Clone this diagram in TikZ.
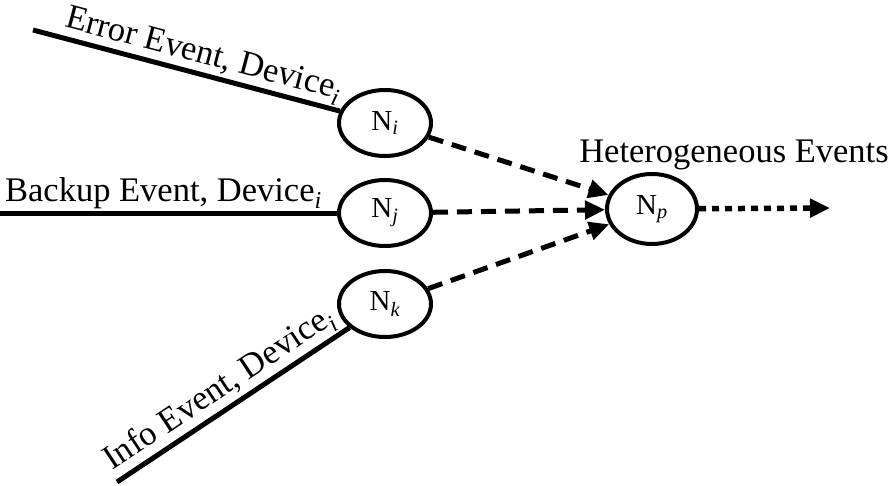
\documentclass[tikz,border=0pt]{standalone}
\usepackage{fontspec}
\setmainfont{Liberation Serif}
\usetikzlibrary{shapes.geometric,arrows.meta}
\tikzset{
  evnode/.style={ellipse, draw, line width=4pt, minimum width=92pt, minimum height=66pt, inner sep=0pt, font=\fontsize{29}{32}\selectfont},
  inline/.style={line width=5pt},
  lbl/.style={font=\fontsize{34.5}{40}\selectfont, inner sep=2pt},
  dasharrow/.style={line width=5pt, dash pattern=on 15pt off 9pt, -{Triangle[length=20pt,width=18pt]}},
  dotarrow/.style={line width=5.5pt, dash pattern=on 7pt off 6pt, -{Triangle[length=20pt,width=18pt]}}
}
\newcommand{\sbi}[1]{\textsubscript{\textit{#1}}}
\begin{document}
\begin{tikzpicture}[x=1pt,y=-1pt]
\useasboundingbox (0,0) rectangle (892,485);
\node[evnode] (Ni) at (385,123) {N\sbi{i}};
\node[evnode] (Nj) at (385,213) {N\sbi{j}};
\node[evnode] (Nk) at (385,304) {N\sbi{k}};
\node[evnode, minimum width=90pt, minimum height=70pt] (Np) at (652,209) {N\sbi{p}};
\coordinate (a) at (33,30);
\coordinate (b) at (0,213);
\coordinate (c) at (117,482);
\coordinate (d) at (830,208);
\draw[inline] (a) -- node[lbl, sloped, above, pos=0.54, inner sep=1pt] {Error Event, Device\sbi{i}} (Ni);
\draw[inline] (b) -- node[lbl, above, pos=0.485] {Backup Event, Device\sbi{i}} (Nj);
\draw[inline] (c) -- node[lbl, sloped, above, pos=0.49] {Info Event, Device\sbi{i}} (Nk);
\draw[dasharrow] (Ni) -- (Np);
\draw[dasharrow] (Nj) -- (Np);
\draw[dasharrow] (Nk) -- (Np);
\draw[dotarrow] (Np) -- (d);
\node[lbl, anchor=base] (het) at (734,162) {Heterogeneous Events};
\end{tikzpicture}
\end{document}
